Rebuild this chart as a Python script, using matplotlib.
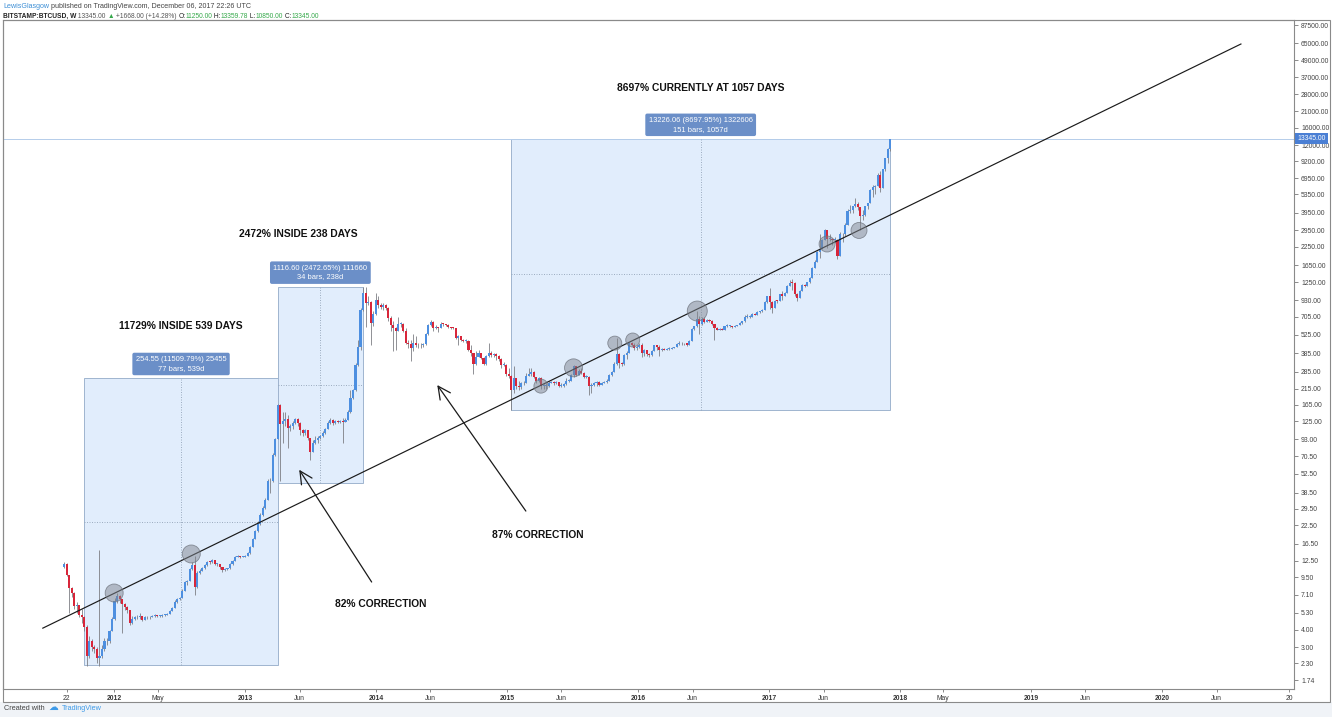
import numpy as np
import pandas as pd
import matplotlib
matplotlib.use('Agg')
import matplotlib.pyplot as plt
import matplotlib.dates as mdates
from matplotlib.patches import Rectangle

plt.rcParams['font.family'] = ['Liberation Sans', 'DejaVu Sans']

# ---------------- data (weekly BITSTAMP:BTCUSD candles) ----------------
first_week = '2011-08-15'
first_open = 11.2
closes = [
    11.9, 9.9, 8.0, 7.3, 5.9, 6.0, 5.1, 4.9, 4.2, 2.6,
    3.3, 3.0, 2.9, 2.5, 2.6, 2.9, 3.3, 3.3, 3.9, 4.8,
    6.4, 7.0, 6.6, 6.1, 5.8, 5.5, 4.5, 4.8, 4.9, 4.9,
    5.0, 4.7, 4.9, 4.9, 4.9, 5.0, 5.1, 5.0, 5.0, 5.1,
    5.1, 5.2, 5.4, 5.7, 6.3, 6.6, 6.7, 7.6, 8.8, 8.9,
    10.9, 11.6, 8.1, 10.2, 10.6, 11.0, 11.6, 12.3, 12.2, 12.6,
    11.8, 11.8, 11.3, 10.8, 10.9, 11.0, 11.8, 12.5, 13.4, 13.5,
    13.3, 13.4, 13.6, 14.2, 15.7, 17.9, 20.5, 23.0, 26.5, 30.0,
    34.0, 46.5, 47.0, 72.0, 93.0, 165.0, 120.0, 125.0, 130.0, 112.0,
    115.0, 121.0, 131.0, 122.0, 108.0, 103.0, 108.0, 95.0, 76.0, 88.0,
    92.0, 95.0, 98.0, 104.0, 111.0, 122.0, 128.0, 122.0, 126.0, 124.0,
    125.0, 124.0, 128.0, 145.0, 185.0, 210.0, 320.0, 430.0, 790.0, 1050.0,
    880, 900, 640, 740, 930, 850, 830, 850, 810, 690,
    620, 590, 560, 630, 630, 560, 460, 450, 420, 460,
    440, 440, 440, 450, 530, 620, 650, 590, 600, 590,
    630, 625, 620, 600, 590, 585, 500, 510, 480, 475,
    475, 410, 385, 325, 360, 390, 355, 325, 370, 390,
    375, 380, 370, 350, 320, 320, 275, 265, 210, 255,
    225, 220, 235, 235, 265, 275, 285, 260, 245, 255,
    225, 225, 225, 235, 240, 235, 240, 225, 225, 232,
    245, 245, 268, 310, 270, 290, 280, 260, 260, 225,
    230, 235, 240, 230, 235, 240, 245, 270, 285, 325,
    380, 330, 325, 375, 390, 455, 440, 420, 430, 445,
    385, 405, 380, 375, 400, 440, 430, 405, 415, 410,
    415, 415, 420, 425, 450, 460, 455, 455, 440, 475,
    580, 605, 685, 625, 675, 650, 665, 660, 625, 590,
    570, 580, 570, 605, 610, 610, 600, 610, 615, 640,
    655, 700, 705, 705, 735, 730, 765, 770, 790, 895,
    995, 900, 820, 920, 915, 1020, 995, 1050, 1180, 1240,
    1230, 1025, 965, 1080, 1190, 1180, 1245, 1345, 1580, 1745,
    2060, 2160, 2510, 2950, 2540, 2570, 2500, 2500, 1910, 2750,
    2750, 3200, 4050, 4100, 4380, 4580, 4330, 3700, 3780, 4380,
    4600, 5700, 6000, 6150, 7400, 5900, 8050, 9750, 11250, 13345,
]
highs = [
    12.3, 12.0, 9.9, 8.1, 7.4, 6.3, 6.0, 5.6, 5.0, 4.3,
    3.6, 3.4, 3.1, 3.0, 15.0, 3.1, 3.5, 3.5, 4.0, 4.9,
    6.8, 7.3, 7.1, 6.6, 6.2, 5.9, 5.5, 5.0, 5.0, 5.1,
    5.3, 5.0, 5.0, 5.0, 5.0, 5.1, 5.2, 5.1, 5.1, 5.2,
    5.2, 5.3, 5.5, 5.8, 6.5, 6.8, 6.9, 7.8, 9.0, 9.1,
    11.1, 12.3, 13.5, 10.6, 10.9, 11.2, 11.8, 12.4, 12.5, 12.9,
    12.7, 12.0, 11.9, 11.3, 11.0, 11.1, 12.0, 12.7, 13.6, 13.7,
    13.6, 13.5, 13.7, 14.5, 16.0, 18.2, 20.8, 24.0, 27.5, 31.0,
    35.0, 48.5, 49.0, 74.0, 95.0, 167.0, 166.0, 145.0, 145.0, 139.0,
    120.0, 125.0, 133.0, 133.0, 123.0, 110.0, 111.0, 108.0, 95.0, 92.0,
    99.0, 98.0, 100.0, 106.0, 112.0, 125.0, 132.0, 130.0, 129.0, 128.0,
    128.0, 133.0, 132.0, 150.0, 210.0, 215.0, 330.0, 480.0, 820.0, 1161.0,
    1150, 1000, 910, 770, 1040, 1000, 880, 880, 870, 830,
    710, 660, 600, 700, 650, 640, 590, 480, 480, 530,
    510, 460, 460, 460, 540, 630, 670, 660, 615, 600,
    650, 640, 630, 625, 600, 600, 590, 520, 515, 490,
    485, 480, 440, 390, 400, 405, 390, 360, 375, 460,
    400, 390, 385, 375, 355, 335, 325, 300, 270, 310,
    255, 245, 240, 245, 280, 300, 300, 290, 260, 260,
    260, 232, 235, 245, 245, 245, 245, 240, 235, 236,
    255, 250, 275, 315, 300, 295, 300, 285, 270, 265,
    235, 240, 245, 245, 240, 245, 250, 275, 290, 335,
    500, 390, 335, 380, 400, 465, 465, 455, 440, 455,
    455, 415, 400, 390, 405, 445, 445, 440, 420, 420,
    420, 425, 425, 430, 460, 470, 465, 460, 460, 480,
    590, 610, 780, 710, 700, 705, 675, 675, 665, 625,
    600, 585, 585, 610, 630, 615, 610, 615, 620, 645,
    660, 720, 740, 730, 750, 745, 770, 780, 795, 920,
    1000, 1140, 920, 930, 930, 1030, 1075, 1060, 1200, 1290,
    1320, 1250, 1050, 1100, 1215, 1210, 1250, 1350, 1600, 1800,
    2100, 2750, 2550, 2990, 2950, 2750, 2600, 2650, 2550, 2880,
    2800, 3300, 4200, 4480, 4400, 4980, 4700, 4330, 4100, 4400,
    4650, 5850, 6200, 6200, 7600, 7900, 8100, 9800, 11400, 13359.78,
]
lows = [
    11.0, 9.7, 5.3, 6.9, 5.6, 5.3, 4.9, 4.5, 3.9, 2.21,
    2.5, 2.8, 2.7, 2.3, 2.2, 2.5, 2.8, 3.1, 3.2, 3.9,
    4.7, 6.2, 6.2, 3.8, 5.5, 5.3, 4.3, 4.4, 4.7, 4.8,
    4.8, 4.6, 4.7, 4.8, 4.8, 4.9, 4.9, 4.9, 4.9, 4.9,
    5.0, 5.1, 5.2, 5.4, 5.7, 6.2, 6.5, 6.7, 7.6, 8.4,
    8.9, 10.8, 7.1, 7.9, 10.0, 10.5, 10.9, 11.5, 11.9, 12.0,
    11.6, 11.5, 10.9, 10.4, 10.5, 10.7, 10.9, 11.7, 12.4, 13.2,
    13.1, 13.2, 13.3, 13.5, 14.0, 15.6, 17.8, 20.2, 22.5, 26.0,
    29.5, 34.0, 38.5, 46.0, 71.0, 93.0, 47.0, 88.0, 115.0, 80.0,
    106.0, 110.0, 119.0, 116.0, 100.0, 98.0, 100.0, 92.0, 66.0, 75.0,
    86.0, 88.0, 93.0, 96.0, 102.0, 110.0, 119.0, 118.0, 120.0, 121.0,
    121.0, 88.0, 123.0, 127.0, 144.0, 180.0, 208.0, 310.0, 410.0, 780.0,
    600, 850, 440, 610, 720, 810, 800, 790, 790, 660,
    560, 400, 410, 560, 600, 550, 450, 420, 340, 400,
    430, 420, 420, 430, 440, 520, 610, 560, 580, 550,
    590, 610, 610, 590, 575, 575, 490, 440, 470, 465,
    460, 400, 370, 275, 320, 370, 350, 320, 320, 360,
    360, 360, 345, 340, 300, 310, 265, 255, 152, 200,
    215, 210, 215, 230, 235, 265, 265, 255, 235, 240,
    215, 215, 215, 220, 235, 230, 232, 222, 222, 222,
    230, 238, 245, 260, 265, 270, 275, 255, 255, 195,
    200, 225, 225, 225, 228, 234, 235, 245, 265, 282,
    320, 300, 310, 315, 350, 385, 435, 410, 410, 420,
    360, 370, 370, 365, 370, 400, 410, 370, 400, 405,
    410, 410, 415, 420, 425, 445, 440, 445, 435, 440,
    475, 570, 600, 530, 620, 640, 645, 650, 615, 480,
    565, 565, 565, 570, 600, 600, 590, 595, 605, 615,
    630, 650, 690, 690, 700, 725, 725, 755, 765, 790,
    890, 800, 755, 820, 880, 910, 930, 995, 1045, 1170,
    1100, 1000, 910, 960, 1080, 1150, 1170, 1240, 1340, 1570,
    1740, 1850, 2150, 2510, 2200, 2450, 2300, 2400, 1840, 1910,
    2420, 2700, 3200, 3900, 3950, 4320, 4100, 2980, 3500, 3700,
    4200, 4600, 5100, 5400, 6100, 5500, 5950, 7900, 8900, 10850,
]

last_price = 13345.00

price_ticks = [1.74, 2.30, 3.00, 4.00, 5.30, 7.10, 9.50, 12.50, 16.50, 22.50,
               29.50, 38.50, 52.50, 70.50, 93.00, 125.00, 165.00, 215.00,
               285.00, 385.00, 525.00, 705.00, 930.00, 1250.00, 1650.00,
               2250.00, 2950.00, 3950.00, 5350.00, 6950.00, 9200.00,
               12000.00, 16000.00, 21000.00, 28000.00, 37000.00, 49000.00,
               65000.00, 87500.00]

date_ticks = ['2011-08-22', '2012-01-01', '2012-05-01', '2013-01-01', '2013-06-01',
              '2014-01-01', '2014-06-01', '2015-01-01', '2015-06-01', '2016-01-01',
              '2016-06-01', '2017-01-01', '2017-06-01', '2018-01-01', '2018-05-01',
              '2019-01-01', '2019-06-01', '2020-01-01', '2020-06-01', '2020-12-21']
date_tick_labels = ['22', '2012', 'May', '2013', 'Jun', '2014', 'Jun', '2015', 'Jun',
                    '2016', 'Jun', '2017', 'Jun', '2018', 'May', '2019', 'Jun', '2020',
                    'Jun', '20']

# measurement boxes (date range / price range) and their labels
box_starts = ['2011-10-10', '2013-04-01', '2015-01-12']
box_ends = ['2013-04-01', '2013-11-25', '2017-12-04']
box_lows = [2.2116, 45.157, 152.06]
box_highs = [256.76, 1161.76, 13378.12]
box_labels = ['254.55 (11509.79%) 25455\n77 bars, 539d',
              '1116.60 (2472.65%) 111660\n34 bars, 238d',
              '13226.06 (8697.95%) 1322606\n151 bars, 1057d']

# trend line
trend_dates = ['2011-06-16', '2020-08-08']
trend_prices = [4.1, 64000]

# highlighted touches (circles)
circle_dates = ['2012-01-01', '2012-08-03', '2015-04-05', '2015-07-05', '2015-10-28',
                '2015-12-17', '2016-06-14', '2017-06-11', '2017-09-08']
circle_prices = [7.33, 13.97, 224, 303, 456, 480, 775, 2347, 2936]
circle_sizes = [168, 168, 102, 168, 102, 102, 207, 133, 133]

# annotations
notes = ['8697% CURRENTLY AT 1057 DAYS', '2472% INSIDE 238 DAYS',
         '11729% INSIDE 539 DAYS', '87% CORRECTION', '82% CORRECTION']
note_dates = ['2016-06-25', '2013-05-28', '2012-07-06', '2015-03-27', '2014-01-12']
note_prices = [30900, 2768, 605, 19.1, 6.1]

arrow_tail_dates = ['2015-02-22', '2013-12-19']
arrow_tail_prices = [28.4, 8.79]
arrow_head_dates = ['2014-06-20', '2013-05-31']
arrow_head_prices = [228, 56.2]

# ---------------- figure ----------------
W, H = 1332, 717
fig = plt.figure(figsize=(W / 100, H / 100), dpi=100)
fig.patch.set_facecolor('white')

AX_L, AX_R, AX_T, AX_B = 3, 1294, 20, 689
ax = fig.add_axes([AX_L / W, 1 - AX_B / H, (AX_R - AX_L) / W, (AX_B - AX_T) / H])
ax.set_facecolor('white')
ax.set_yscale('log')


def dn(s):
    return mdates.date2num(pd.Timestamp(s))


ax.set_xlim(dn('2011-02-25'), dn('2021-01-03'))
ax.set_ylim(1.4996, 95181)

# bottom grey band & outer frame
fig.patches.append(Rectangle((0, 0), 1, 1 - 702 / H, transform=fig.transFigure,
                             facecolor='#f0f3f7', edgecolor='none', zorder=0))
fig.patches.append(Rectangle((AX_L / W, 1 - 702 / H), (1330 - AX_L) / W, (702 - AX_T) / H,
                             transform=fig.transFigure, facecolor='none',
                             edgecolor='#8a8a8a', lw=0.8, zorder=5))

# measurement boxes
for s, e, lo, hi, lab in zip(box_starts, box_ends, box_lows, box_highs, box_labels):
    x0, x1 = dn(s), dn(e)
    ax.add_patch(Rectangle((x0, lo), x1 - x0, hi - lo, facecolor='#e1edfc',
                           edgecolor='#9fb4cf', lw=0.7, zorder=1))
    xm = (x0 + x1) / 2
    ym = np.sqrt(lo * hi)
    ax.plot([xm, xm], [lo, hi], ls=(0, (1.2, 1.8)), color='#93a4b8', lw=0.6, zorder=1.5)
    ax.plot([x0, x1], [ym, ym], ls=(0, (1.2, 1.8)), color='#93a4b8', lw=0.6, zorder=1.5)
    ax.annotate(lab, xy=(xm, hi), xytext=(0, 10), textcoords='offset points',
                ha='center', va='center', fontsize=5.4, color='white',
                linespacing=1.35, zorder=6,
                bbox=dict(boxstyle='round,pad=0.45,rounding_size=0.25',
                          fc='#6b8fc8', ec='none'))

# last price line
ax.axhline(last_price, color='#b5cdea', lw=0.7, zorder=1.2)

# candles
c = np.array(closes, dtype=float)
n = min(len(c), len(highs), len(lows))
c = c[:n]
o = np.r_[first_open, c[:-1]]
hi_ = np.maximum(np.array(highs[:n], float), np.maximum(o, c))
lo_ = np.minimum(np.array(lows[:n], float), np.minimum(o, c))
dates = pd.date_range(first_week, periods=n, freq='7D')
xd = mdates.date2num(dates)
up = c >= o
bot = np.minimum(o, c)
hgt = np.maximum(np.abs(c - o), bot * 0.012)
ax.vlines(xd, lo_, hi_, color='#7d7f84', lw=0.6, zorder=3)
ax.bar(xd[up], hgt[up], bottom=bot[up], width=5.8, color='#4d8fe0', lw=0, zorder=3.5)
ax.bar(xd[~up], hgt[~up], bottom=bot[~up], width=5.8, color='#d8263a', lw=0, zorder=3.5)

# trend line
ax.plot([dn(d) for d in trend_dates], trend_prices, color='#1a1a1a', lw=0.85, zorder=4)

# circles
ax.scatter([dn(d) for d in circle_dates], circle_prices, s=circle_sizes,
           facecolor=(0.5, 0.52, 0.56, 0.5), edgecolor=(0.42, 0.44, 0.48, 0.75),
           lw=0.6, zorder=5)

# annotation texts
for t, d, p in zip(notes, note_dates, note_prices):
    ax.text(dn(d), p, t, ha='center', va='center', fontsize=7.4, fontweight='bold',
            color='#111111', zorder=6)

for td, tp, hd, hp in zip(arrow_tail_dates, arrow_tail_prices, arrow_head_dates, arrow_head_prices):
    ax.annotate('', xy=(dn(hd), hp), xytext=(dn(td), tp),
                arrowprops=dict(arrowstyle='->,head_length=0.9,head_width=0.45',
                                color='#1a1a1a', lw=0.9, shrinkA=0, shrinkB=0), zorder=6)

# axes styling
for sp in ax.spines.values():
    sp.set_color('#8a8a8a')
    sp.set_linewidth(0.8)
ax.yaxis.tick_right()
ax.yaxis.set_major_locator(matplotlib.ticker.FixedLocator(price_ticks))
ax.yaxis.set_major_formatter(matplotlib.ticker.FixedFormatter(['%.2f' % v for v in price_ticks]))
ax.yaxis.set_minor_locator(matplotlib.ticker.NullLocator())
ax.tick_params(axis='y', which='major', direction='out', length=3, width=0.6,
               colors='#777777', labelsize=4.9, labelcolor='#444444', pad=2)
ax.set_xticks([dn(d) for d in date_ticks])
ax.set_xticklabels(date_tick_labels)
ax.xaxis.set_minor_locator(matplotlib.ticker.NullLocator())
ax.tick_params(axis='x', which='major', direction='out', length=2.5, width=0.6,
               colors='#777777', labelsize=4.9, labelcolor='#333333', pad=1.5)
for lbl in ax.get_xticklabels():
    if lbl.get_text().isdigit() and len(lbl.get_text()) == 4:
        lbl.set_fontweight('bold')

# last price label on axis
ax.text(1.0025, last_price, '%.2f' % last_price, transform=ax.get_yaxis_transform(),
        ha='left', va='center', fontsize=4.9, color='white', zorder=7, clip_on=False,
        bbox=dict(boxstyle='square,pad=0.3', fc='#4a7fd4', ec='none'))

# header
fig.canvas.draw()
renderer = fig.canvas.get_renderer()


def pieces(items, x0, y0, size):
    x = x0
    for txt, col, wt in items:
        t = fig.text(x / W, 1 - y0 / H, txt, color=col, fontsize=size, fontweight=wt,
                     ha='left', va='center')
        x += t.get_window_extent(renderer=renderer).width


green = '#35a84a'
pieces([('LewisGlasgow', '#3d8fd6', 'normal'),
        (' published on TradingView.com, December 06, 2017 22:26 UTC', '#444444', 'normal')],
       3, 7, 5.1)
pieces([('BITSTAMP:BTCUSD, W', '#222222', 'bold'),
        (' 13345.00 ', '#555555', 'normal'),
        ('\u25B2', green, 'normal'),
        (' +1668.00 (+14.28%) ', '#555555', 'normal'),
        ('O:', '#222222', 'normal'), ('11250.00', green, 'normal'),
        (' H:', '#222222', 'normal'), ('13359.78', green, 'normal'),
        (' L:', '#222222', 'normal'), ('10850.00', green, 'normal'),
        (' C:', '#222222', 'normal'), ('13345.00', green, 'normal')],
       3, 16, 4.8)

fig.text(4 / W, 1 - 708 / H, 'Created with', fontsize=5.2, color='#444444',
         ha='left', va='center')
fig.text(48 / W, 1 - 707 / H, '\u2601', fontsize=7, color='#3d9ae8', ha='left', va='center',
         family=['DejaVu Sans'])
fig.text(62 / W, 1 - 708 / H, 'TradingView', fontsize=5.2, color='#3d9ae8',
         ha='left', va='center')

fig.savefig('out.png', dpi=100, facecolor=fig.get_facecolor())
